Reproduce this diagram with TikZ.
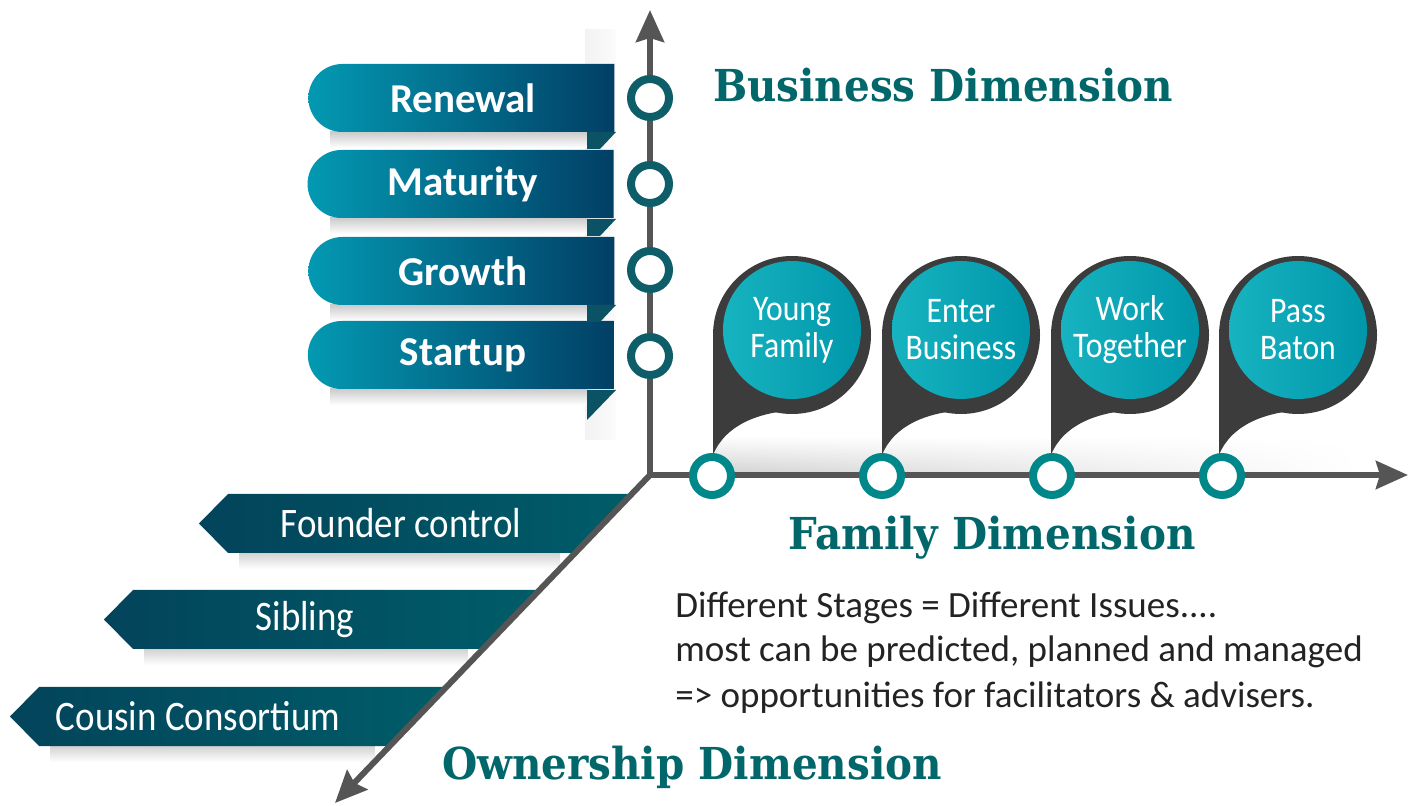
\documentclass[tikz,border=0pt]{standalone}
\usepackage{fontspec}
\setmainfont{Carlito}
\newfontfamily\labelfont{Carlito}[FakeStretch=0.88]
\newfontfamily\titlefont{DejaVu Serif}[FakeStretch=0.92]
\usepackage{tikz}
\usetikzlibrary{arrows.meta,shapes.misc,positioning,fadings}

\definecolor{axisgray}{HTML}{555555}
\definecolor{ringdark}{HTML}{0D5E69}
\definecolor{ringteal}{HTML}{00878A}
\definecolor{bizlight}{HTML}{0399B2}
\definecolor{bizdark}{HTML}{023F65}
\definecolor{folddark}{HTML}{0B5364}
\definecolor{ownlight}{HTML}{005C68}
\definecolor{owndark}{HTML}{03445B}
\definecolor{pingray}{HTML}{3C3C3C}
\definecolor{pinlight}{HTML}{17B3C0}
\definecolor{pindark}{HTML}{0097AB}
\definecolor{titleteal}{HTML}{02676A}
\definecolor{bodygray}{HTML}{232323}

\tikzfading[name=fadeout right, left color=transparent!0, right color=transparent!100]

\tikzset{
  axis/.style={line width=3pt, draw=axisgray, -{Stealth[length=16pt,width=14pt,inset=2pt]}},
  bizribbon/.style={rounded rectangle, rounded rectangle right arc=none, minimum width=153pt,
    minimum height=34pt, inner sep=0pt, left color=bizlight, right color=bizdark,
    text=white, font=\bfseries\fontsize{20.5}{24}\selectfont},
  ownlabel/.style={text=white, inner sep=0pt, font=\labelfont\fontsize{21}{25}\selectfont},
  pinface/.style={circle, minimum size=69pt, inner sep=0pt, left color=pinlight, right color=pindark,
    text=white, align=center, font=\labelfont\fontsize{18}{18.5}\selectfont},
  bizring/.style={circle, draw=ringdark, fill=white, line width=4pt, minimum size=19pt, inner sep=0pt},
  famring/.style={circle, draw=ringteal, fill=white, line width=4pt, minimum size=19pt, inner sep=0pt},
  titletext/.style={text=titleteal, inner sep=0pt, font=\titlefont\bfseries\fontsize{22}{26}\selectfont},
  bodytext/.style={text=bodygray, inner sep=0pt, font=\fontsize{18.5}{22}\selectfont}
}

\begin{document}
\begin{tikzpicture}[x=0.5pt,y=-0.5pt]
  \useasboundingbox (0,0) rectangle (1414,806);

  \coordinate (origin) at (650,475);
  \coordinate (bizend) at (650,10);
  \coordinate (famend) at (1408,475);
  \coordinate (ownend) at (335,803);

  \shade[left color=gray!10, right color=gray!3] (585,30) rectangle (616,440);
  \foreach \y/\nm/\txt in {64/renewal/Renewal, 150/maturity/Maturity, 237/growth/Growth, 321/startup/Startup}{
    \shade[top color=gray!40, bottom color=white] (330,\y+68) rectangle (587,\y+84);
    \node[bizribbon] (\nm) at (463,\y+34) {\txt};
  }
  \foreach \y in {132,219,305}
    \fill[folddark] (587,\y) -- (616,\y) -- (600,\y+17) -- (587,\y+17) -- cycle;
  \fill[folddark] (587,390) -- (616,390) -- (587,420) -- cycle;

  \shade[top color=white, bottom color=gray!35, path fading=fadeout right] (713,436) rectangle (1360,473);
  \foreach \x/\nm/\txt in {792/young/{Young\\Family}, 961/enter/{Enter\\Business},
      1130/work/{Work\\Together}, 1298/pass/{Pass\\Baton}}{
    \fill[pingray] (\x,335) circle (79);
    \fill[pingray] (\x-79,335) -- (\x-79,455) .. controls (\x-67,425) and (\x-32,410) .. (\x+13,410) -- (\x,335) -- cycle;
    \node[pinface] (\nm) at (\x,330) {\txt};
  }

  \foreach \top/\tipx/\nm/\txt/\tx in {494/199/founder/Founder control/401,
      590/104/sibling/Sibling/305, 687/10/cousin/Cousin Consortium/198}{
    \pgfmathsetmacro\rtop{650-0.96*(\top-475)}
    \pgfmathsetmacro\rbot{650-0.96*(\top+59-475)}
    \shade[top color=gray!35, bottom color=white] (\tipx+40,\top+59) rectangle (\rbot-15,\top+75);
    \shade[left color=owndark, right color=ownlight] (\tipx+29,\top) -- (\tipx,\top+29.5)
      -- (\tipx+29,\top+59) -- (\rbot,\top+59) -- (\rtop,\top) -- cycle;
    \node[ownlabel] (\nm) at (\tx,\top+29.5) {\txt};
  }

  \draw[axis] (origin) -- (bizend);
  \draw[axis] (origin) -- (famend);
  \draw[axis] (origin) -- (ownend);

  \foreach \y [count=\i] in {98,184,270,356}
    \node[bizring] (br\i) at (650,\y) {};
  \foreach \x [count=\i] in {712,882,1052,1222}
    \node[famring] (fr\i) at (\x,476) {};

  \node[titletext, anchor=base] (biztitle) at (943,102) {Business Dimension};
  \node[titletext, anchor=base] (famtitle) at (992,550) {Family Dimension};
  \node[titletext, anchor=base] (owntitle) at (692,779) {Ownership Dimension};

  \node[bodytext, anchor=base west] (note1) at (675,618) {Different Stages = Different Issues....};
  \node[bodytext, anchor=base west] (note2) at (675,662) {most can be predicted, planned and managed};
  \node[bodytext, anchor=base west] (note3) at (675,707) {=> opportunities for facilitators \& advisers.};
\end{tikzpicture}
\end{document}
